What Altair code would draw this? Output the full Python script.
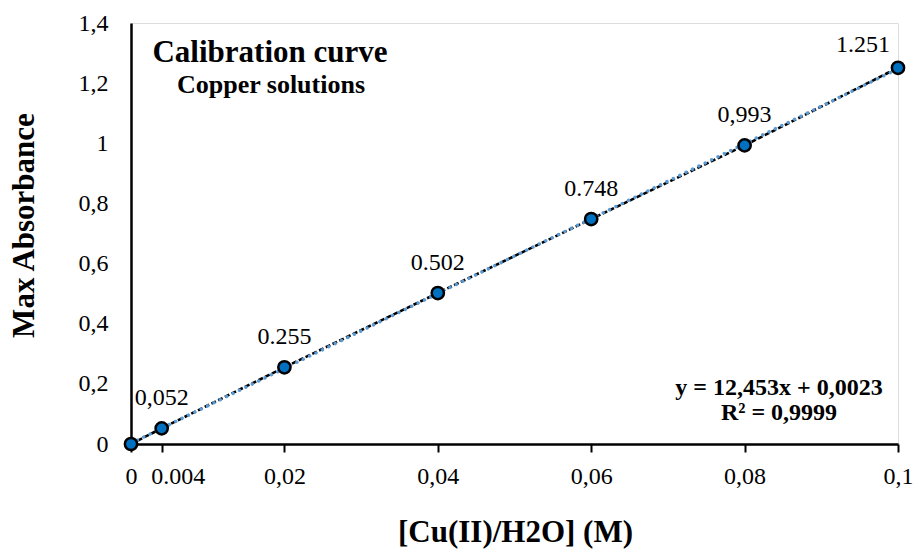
import altair as alt
import pandas as pd

# Copper calibration standards
concentration = [0.0, 0.004, 0.02, 0.04, 0.06, 0.08, 0.1]
absorbance = [0.0, 0.052, 0.255, 0.502, 0.748, 0.993, 1.251]
point_labels = ["", "0,052", "0.255", "0.502", "0.748", "0,993", "1.251"]

# Linear fit reported on the chart
slope = [12.453]
intercept = [0.0023]
r_squared = ["0,9999"]
fit_range = [0.0, 0.1]

x_ticks = [0.0, 0.004, 0.02, 0.04, 0.06, 0.08, 0.1]
x_tick_text = ["0", "0.004", "0,02", "0,04", "0,06", "0,08", "0,1"]
y_ticks = [0.0, 0.2, 0.4, 0.6, 0.8, 1.0, 1.2, 1.4]
y_tick_text = ["0", "0,2", "0,4", "0,6", "0,8", "1", "1,2", "1,4"]

FONT = "Liberation Serif"

pts = pd.DataFrame({"c": concentration, "a": absorbance, "lab": point_labels})
fit = pd.DataFrame({"c": fit_range,
                    "a": [slope[0] * v + intercept[0] for v in fit_range]})


def label_expr(values, texts):
    expr = "''"
    for v, t in reversed(list(zip(values, texts))):
        expr = f"abs(datum.value - {v}) < 1e-9 ? '{t}' : ({expr})"
    return expr


x_scale = alt.Scale(domain=[0, 0.1], nice=False, zero=False)
y_scale = alt.Scale(domain=[0, 1.4], nice=False)

x_enc = alt.X("c:Q", scale=x_scale, axis=alt.Axis(
    values=x_ticks, labelExpr=label_expr(x_ticks, x_tick_text),
    title="[Cu(II)/H2O] (M)", grid=False,
    domainColor="black", domainWidth=2.5,
    tickColor="black", tickWidth=2, tickSize=8,
    labelFont=FONT, labelFontSize=24, labelColor="black", labelPadding=12,
    labelOffset={"condition": {"test": "abs(datum.value - 0.004) < 1e-9", "value": 16}, "value": 0},
    labelOverlap=False, labelFlush=False,
    titleFont=FONT, titleFontSize=31, titleFontWeight="bold", titleColor="black",
    titleX=384, titleY=73,
))
y_enc = alt.Y("a:Q", scale=y_scale, axis=alt.Axis(
    values=y_ticks, labelExpr=label_expr(y_ticks, y_tick_text),
    title="Max Absorbance", grid=False, ticks=False,
    domainColor="black", domainWidth=2.5,
    labelFont=FONT, labelFontSize=24, labelColor="black", labelPadding=23,
    labelOverlap=False, labelFlush=False,
    titleFont=FONT, titleFontSize=31, titleFontWeight="bold", titleColor="black",
    titleX=-91, titleY=202,
))

base = alt.Chart(pts)

series_line = base.mark_line(
    color="black", strokeWidth=2.6, strokeDash=[5, 2.5]
).encode(x=x_enc, y=y_enc)

trend = alt.Chart(fit).mark_line(
    color="#5B9BD5", strokeWidth=3.4, strokeDash=[0.1, 7], strokeCap="round"
).encode(x="c:Q", y="a:Q")

markers = base.mark_point(
    shape="circle", filled=True, size=150, fill="#0070C0", stroke="black",
    strokeWidth=2.5, opacity=1
).encode(x="c:Q", y="a:Q")

labels_main = base.transform_filter("datum.lab != '' && datum.c < 0.099").mark_text(
    font=FONT, fontSize=24, color="black", baseline="alphabetic", dy=-23
).encode(x="c:Q", y="a:Q", text="lab:N")

label_last = base.transform_filter("datum.c >= 0.099").mark_text(
    font=FONT, fontSize=24, color="black", baseline="alphabetic", dx=-35, dy=-16
).encode(x="c:Q", y="a:Q", text="lab:N")


def note(text, size, x, y):
    return alt.Chart(pd.DataFrame({"t": [text]})).mark_text(
        font=FONT, fontSize=size, fontWeight="bold", color="black", baseline="alphabetic"
    ).encode(x=alt.value(x), y=alt.value(y), text="t:N")


title_main = note("Calibration curve", 31, 139, 39)
title_sub = note("Copper solutions", 26, 140, 70)
eq_text = f"y = {slope[0]:.3f}x + {intercept[0]:.4f}".replace(".", ",")
eq_line = note(eq_text, 24, 648, 372)
r2_line = note(f"R² = {r_squared[0]}", 24, 648, 397)

chart = alt.layer(
    series_line, trend, markers, labels_main, label_last,
    title_main, title_sub, eq_line, r2_line
).properties(
    width=767, height=421,
    autosize=alt.AutoSizeParams(type="none"),
    padding={"left": 131, "top": 23, "right": 19, "bottom": 108},
).configure_view(
    stroke="black", strokeWidth=2.5
).configure(background="white")

chart.save("out.html", embed_options={"renderer": "svg", "actions": False})
